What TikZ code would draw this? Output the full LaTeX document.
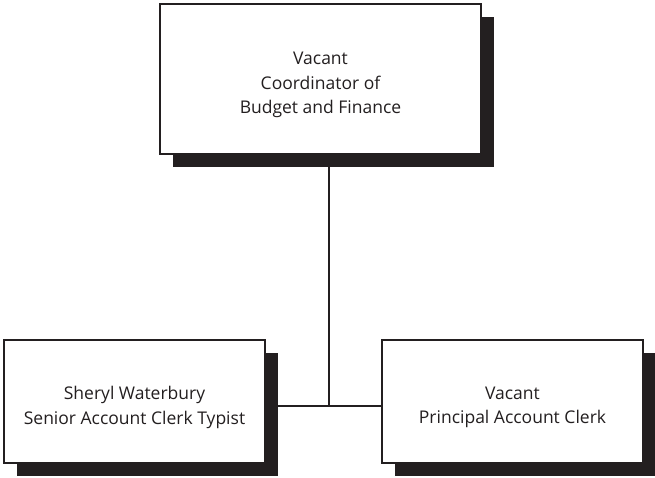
\documentclass[tikz,border=0pt]{standalone}
\usepackage{fontspec}
\setmainfont{Open Sans}
\usetikzlibrary{shadows}
\definecolor{ink}{HTML}{231F20}
\begin{document}
\begin{tikzpicture}[x=1pt,y=-1pt,
  orgbox/.style={draw=ink, line width=1.5pt, fill=white, rectangle, inner sep=0pt,
    general shadow={fill=ink, shadow xshift=13pt, shadow yshift=-13pt}},
  boxtext/.style={align=center, text=ink, inner sep=0pt, yshift=-6pt,
    font=\fontsize{17.5}{24.5}\selectfont},
  link/.style={draw=ink, line width=1.5pt}]
\useasboundingbox (0,0) rectangle (655,478);
\node[orgbox, minimum width=321pt, minimum height=150pt,
  label={[boxtext]center:Vacant\\Coordinator of\\Budget and Finance}] (top) at (320.5,79) {};
\node[orgbox, minimum width=261pt, minimum height=123pt,
  label={[boxtext]center:Sheryl Waterbury\\Senior Account Clerk Typist}] (left) at (134.5,401.5) {};
\node[orgbox, minimum width=261pt, minimum height=123pt,
  label={[boxtext]center:Vacant\\Principal Account Clerk}] (right) at (512.5,401.5) {};
\coordinate (j) at (329,406);
\draw[link] (j |- top.south) -- (j);
\draw[link] (left.east |- j) -- (right.west |- j);
\end{tikzpicture}
\end{document}
